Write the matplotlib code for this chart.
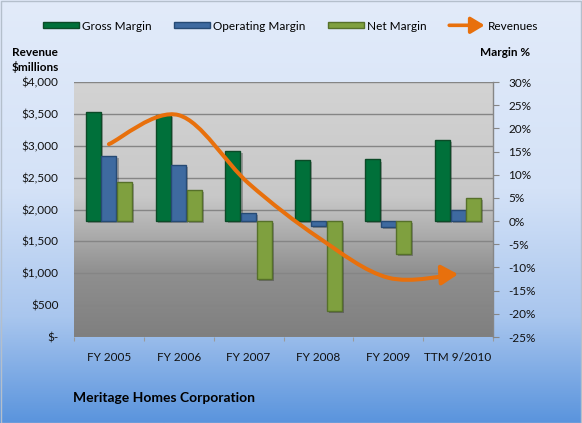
import numpy as np
import matplotlib
matplotlib.use("Agg")
import matplotlib.pyplot as plt
from matplotlib.patches import Patch, Rectangle, FancyArrowPatch
from matplotlib.lines import Line2D
from matplotlib.path import Path
from matplotlib.legend_handler import HandlerBase
from matplotlib.colors import LinearSegmentedColormap
import matplotlib.patheffects as pe

# ---------------- data ----------------
categories = ["FY 2005", "FY 2006", "FY 2007", "FY 2008", "FY 2009", "TTM 9/2010"]
gross_margin = [23.6, 22.9, 15.1, 13.1, 13.3, 17.5]
operating_margin = [14.1, 12.2, 1.8, -1.0, -1.3, 2.5]
net_margin = [8.4, 6.7, -12.4, -19.4, -7.0, 5.0]
revenues = [3025, 3480, 2410, 1560, 930, 985]

rev_ticks = [0, 500, 1000, 1500, 2000, 2500, 3000, 3500, 4000]
rev_tick_labels = ["$-", "$500", "$1,000", "$1,500", "$2,000", "$2,500", "$3,000", "$3,500", "$4,000"]
pct_ticks = [-25, -20, -15, -10, -5, 0, 5, 10, 15, 20, 25, 30]
pct_tick_labels = [f"{t}%" for t in pct_ticks]

C_GROSS = "#00703A"
C_OPER = "#3E6AA0"
C_NET = "#7FA03F"
E_GROSS = "#0B4A27"
E_OPER = "#264A74"
E_NET = "#56702A"
ORANGE = "#E8700C"
FONT = "Lato"

plt.rcParams["font.family"] = [FONT, "DejaVu Sans"]
plt.rcParams["font.size"] = 8

W, H = 582, 423
fig = plt.figure(figsize=(W / 100, H / 100), dpi=100)

# figure background gradient
bg = fig.add_axes([0, 0, 1, 1], zorder=-10)
bg_cmap = LinearSegmentedColormap.from_list(
    "bg", [(0.0, "#e2ebfa"), (0.45, "#d4e2f7"), (0.75, "#a9c6ee"), (1.0, "#5a94dd")])
bg.imshow(np.linspace(0, 1, 256).reshape(-1, 1), aspect="auto", cmap=bg_cmap,
          extent=[0, 1, 0, 1], transform=bg.transAxes)
bg.set_axis_off()
fig.patches.append(Rectangle((0.5 / W, 0.5 / H), 1 - 1.5 / W, 1 - 1.5 / H, transform=fig.transFigure,
                             fill=False, edgecolor="#b4bfcc", lw=1.0))

# plot area
left, right, top, bottom = 74, 493, 82, 337
ax = fig.add_axes([left / W, 1 - bottom / H, (right - left) / W, (bottom - top) / H])
ax2 = ax.twinx()

pa_cmap = LinearSegmentedColormap.from_list(
    "pa", [(0.0, "#d3d3d3"), (0.45, "#c8c8c8"), (0.75, "#8f8f8f"), (1.0, "#7f7f7f")])
ax.imshow(np.linspace(0, 1, 256).reshape(-1, 1), aspect="auto", cmap=pa_cmap,
          extent=[0, 1, 0, 1], transform=ax.transAxes, zorder=0)

x = np.arange(len(categories))
ax.set_xlim(-0.5, len(categories) - 0.5)
ax.set_ylim(0, 4000)
ax2.set_ylim(-25, 30)

# gridlines (revenue axis)
ax.set_yticks(rev_ticks)
ax.set_yticklabels(rev_tick_labels)
ax.grid(axis="y", color="#858585", lw=1.0)
ax.set_axisbelow(False)
for gl in ax.get_ygridlines():
    gl.set_zorder(1)
ax.tick_params(axis="y", length=0, pad=11, labelcolor="#111111", labelsize=8.5)

# category axis
ax.set_xticks(np.arange(-0.5, len(categories)), minor=False)
ax.set_xticklabels([])
ax.set_xticks(x, minor=True)
ax.set_xticklabels(categories, minor=True)
ax.tick_params(axis="x", which="major", length=3, color="#9a9a9a")
ax.tick_params(axis="x", which="minor", length=0, pad=11, labelcolor="#111111", labelsize=8.5)

# right axis
ax2.set_yticks(pct_ticks)
ax2.set_yticklabels(pct_tick_labels)
ax2.tick_params(axis="y", length=4, color="#868686", pad=7, labelcolor="#111111", labelsize=8.5)

for s in ["top", "left", "bottom"]:
    ax.spines[s].set_visible(False)
    ax2.spines[s].set_visible(False)
ax.spines["right"].set_visible(False)
ax2.spines["right"].set_color("#868686")
ax2.spines["right"].set_linewidth(1.0)

# bars
bw = 0.215
off = 0.224
shadow = [pe.SimplePatchShadow(offset=(1.5, -1.5), shadow_rgbFace="#000000", alpha=0.25), pe.Normal()]
for vals, dx, fc, ec in [(gross_margin, -off, C_GROSS, E_GROSS),
                         (operating_margin, 0, C_OPER, E_OPER),
                         (net_margin, off, C_NET, E_NET)]:
    bars = ax2.bar(x + dx, vals, width=bw, color=fc, edgecolor=ec, linewidth=1.0, zorder=2)
    for b in bars:
        b.set_path_effects(shadow)

# revenue smooth line (Catmull-Rom -> cubic Bezier through the data points)
pts = np.column_stack([x, revenues]).astype(float)
verts = [tuple(pts[0])]
codes = [Path.MOVETO]
n = len(pts)
for i in range(n - 1):
    p0 = pts[i - 1] if i > 0 else pts[i]
    p1 = pts[i]
    p2 = pts[i + 1]
    p3 = pts[i + 2] if i + 2 < n else pts[i + 1]
    c1 = p1 + (p2 - p0) / 6.0
    c2 = p2 - (p3 - p1) / 6.0
    verts += [tuple(c1), tuple(c2), tuple(p2)]
    codes += [Path.CURVE4] * 3
rev_path = Path(verts, codes)
arrow = FancyArrowPatch(path=rev_path, arrowstyle="-|>,head_length=0.5,head_width=0.3",
                        mutation_scale=20, color=ORANGE, lw=2.9, transform=ax.transData,
                        capstyle="round", joinstyle="round", zorder=5)
ax2.add_artist(arrow)


# legend
class ArrowHandler(HandlerBase):
    def create_artists(self, legend, orig_handle, xdescent, ydescent, width, height, fontsize, trans):
        y = height / 2 - ydescent
        a = FancyArrowPatch((-xdescent, y), (-xdescent + width, y),
                            arrowstyle="-|>,head_length=0.55,head_width=0.33", mutation_scale=15,
                            color=ORANGE, lw=2.6, shrinkA=0, shrinkB=0, transform=trans)
        return [a]


rev_proxy = Line2D([], [], color=ORANGE)
handles = [Patch(facecolor=C_GROSS, edgecolor=E_GROSS, lw=1.0),
           Patch(facecolor=C_OPER, edgecolor=E_OPER, lw=1.0),
           Patch(facecolor=C_NET, edgecolor=E_NET, lw=1.0),
           rev_proxy]
labels = ["Gross Margin", "Operating Margin", "Net Margin", "Revenues"]
fig.legend(handles, labels, loc="center", bbox_to_anchor=(0.5, 1 - 26 / H), ncol=4, frameon=False,
           handlelength=3.0, handleheight=0.45, handletextpad=0.3, columnspacing=1.9, fontsize=8.5,
           handler_map={rev_proxy: ArrowHandler()})

# axis titles and chart title
fig.text(12 / W, 1 - 52 / H, "Revenue", fontsize=8.5, fontweight="bold", va="center", ha="left")
fig.text(12 / W, 1 - 67 / H, "$millions", fontsize=8.5, fontweight="bold", va="center", ha="left")
fig.text(480 / W, 1 - 52 / H, "Margin %", fontsize=8.5, fontweight="bold", va="center", ha="left")
fig.text(73 / W, 1 - 398 / H, "Meritage Homes Corporation", fontsize=10, fontweight="bold",
         va="center", ha="left")

fig.savefig("out.png", dpi=100)
